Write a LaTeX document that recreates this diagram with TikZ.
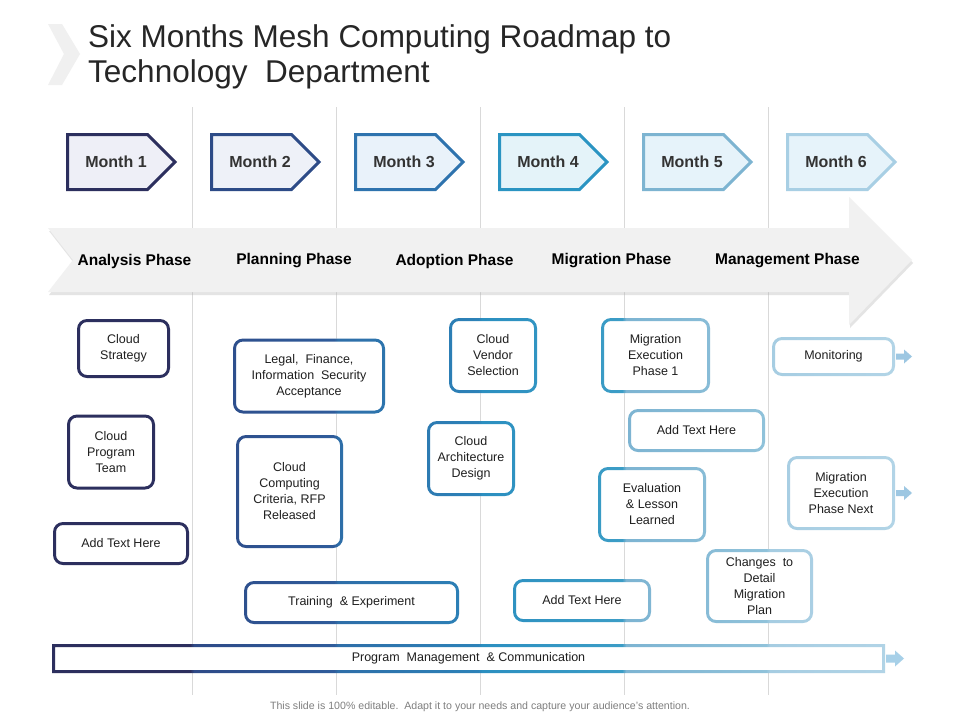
\documentclass[tikz,border=0pt]{standalone}
\usepackage{fontspec}
\setmainfont{Liberation Sans}
\usetikzlibrary{shapes.symbols,shadows}

\definecolor{gridc}{HTML}{D9D9D9}
\definecolor{arrowgray}{HTML}{F1F1F1}
\definecolor{titlec}{HTML}{262626}
\definecolor{txt}{HTML}{1F1F1F}
\definecolor{mtxt}{HTML}{333333}
\definecolor{footc}{HTML}{7F7F7F}
\definecolor{chev}{HTML}{F0F0F0}
\definecolor{c0}{HTML}{2C2F5E}
\definecolor{c1a}{HTML}{2E4A87}
\definecolor{c1b}{HTML}{2F5C9B}
\definecolor{c2a}{HTML}{2E6EA8}
\definecolor{c2b}{HTML}{2C82B8}
\definecolor{c3a}{HTML}{2B8FC0}
\definecolor{c3b}{HTML}{3C9DC6}
\definecolor{c4a}{HTML}{7DB4D2}
\definecolor{c4b}{HTML}{90C2DA}
\definecolor{c5a}{HTML}{A6CDE2}
\definecolor{c5b}{HTML}{B8D8E9}
\definecolor{m1d}{HTML}{2C2F5E}\definecolor{m1f}{HTML}{EEEFF7}
\definecolor{m2d}{HTML}{2D4B87}\definecolor{m2f}{HTML}{EEF1F8}
\definecolor{m3d}{HTML}{2E73AE}\definecolor{m3f}{HTML}{E9F2FA}
\definecolor{m4d}{HTML}{2A94C2}\definecolor{m4f}{HTML}{E4F3F9}
\definecolor{m5d}{HTML}{7DB4D1}\definecolor{m5f}{HTML}{E6F3FA}
\definecolor{m6d}{HTML}{A8CFE4}\definecolor{m6f}{HTML}{E6F3FA}
\definecolor{smallarr}{HTML}{9DC7E2}
\definecolor{bararr}{HTML}{A7D0E8}

\pgfdeclarehorizontalshading{roadmap}{100bp}{color(0bp)=(c0); color(25bp)=(c0); color(34.896bp)=(c0); color(35.104bp)=(c1a); color(42.396bp)=(c1b); color(42.604bp)=(c2a); color(49.896bp)=(c2b); color(50.104bp)=(c3a); color(57.396bp)=(c3b); color(57.604bp)=(c4a); color(64.896bp)=(c4b); color(65.104bp)=(c5a); color(75bp)=(c5b); color(100bp)=(c5b)}

\begin{document}
\begin{tikzpicture}[x=1pt,y=-1pt,
  box/.style={shape=rectangle, rounded corners=10pt, fill=white, inner sep=2pt, outer sep=0pt,
    align=center, font=\fontsize{12.5}{16}\selectfont, text=txt},
  monthbox/.style={shape=signal, signal to=east, signal pointer angle=90, minimum width=107.5pt,
    minimum height=55pt, line width=3pt, inner sep=0pt, outer sep=0pt,
    font=\bfseries\fontsize{16}{18}\selectfont, text=mtxt},
  phase/.style={font=\bfseries\fontsize{15.5}{18}\selectfont, inner sep=0pt, text=black},
  gridline/.style={draw=gridc, line width=0.8pt}]
\useasboundingbox (0,0) rectangle (960,720);
\fill[white] (0,0) rectangle (960,720);

% title
\fill[chev] (48,24) -- (62,24) -- (80,54) -- (62,85) -- (48,85) -- (64,54) -- cycle;
\node[anchor=base west, inner sep=0pt, text=titlec, font=\fontsize{31.5}{36}\selectfont] (t1) at (88,47) {Six Months Mesh Computing Roadmap to};
\node[anchor=base west, inner sep=0pt, text=titlec, font=\fontsize{31.5}{36}\selectfont] (t2) at (88,82) {Technology\ \ Department};

% grid lines
\foreach \gx in {192,336,480,624,768} {
  \draw[gridline] (\gx,107) -- (\gx,695);
}

% month arrows
\node[monthbox, draw=m1d, fill=m1f] (m1) at (107.5,162) {\hspace*{17pt}Month 1};
\node[monthbox, draw=m2d, fill=m2f] (m2) at (251.5,162) {\hspace*{17pt}Month 2};
\node[monthbox, draw=m3d, fill=m3f] (m3) at (395.5,162) {\hspace*{17pt}Month 3};
\node[monthbox, draw=m4d, fill=m4f] (m4) at (539.5,162) {\hspace*{17pt}Month 4};
\node[monthbox, draw=m5d, fill=m5f] (m5) at (683.5,162) {\hspace*{17pt}Month 5};
\node[monthbox, draw=m6d, fill=m6f] (m6) at (827.5,162) {\hspace*{17pt}Month 6};

% big phase arrow
\fill[arrowgray, drop shadow={shadow xshift=1pt, shadow yshift=-3pt, fill=black!30, opacity=0.35}]
  (48,228) -- (849,228) -- (849,197) -- (912,260) -- (849,325) -- (849,292) -- (48,292) -- (73,260) -- cycle;
\node[phase] (p1) at (134.5,261) {Analysis Phase};
\node[phase] (p2) at (294,261) {Planning Phase};
\node[phase] (p3) at (454.5,261) {Adoption Phase};
\node[phase] (p4) at (611.5,261) {Migration Phase};
\node[phase] (p5) at (787.5,261) {Management Phase};

% boxes
\node[box, minimum width=93pt, minimum height=59pt] (cs) at (123.5,348.5) {Cloud\\Strategy};
\node[box, minimum width=88pt, minimum height=75pt] (cpt) at (111,452) {Cloud\\Program\\Team};
\node[box, minimum width=136pt, minimum height=43pt] (ath1) at (121,543.5) {Add Text Here};
\node[box, minimum width=152pt, minimum height=75pt] (lfi) at (309,376) {Legal,\ \ Finance,\\Information\ \ Security\\Acceptance};
\node[box, minimum width=107pt, minimum height=113pt] (ccc) at (289.5,491.5) {Cloud\\Computing\\Criteria,\ RFP\\Released};
\node[box, minimum width=215pt, minimum height=43pt] (tre) at (351.5,602.5) {Training\ \ \& Experiment};
\node[box, minimum width=88pt, minimum height=75pt] (cvs) at (493,355.5) {Cloud\\Vendor\\Selection};
\node[box, minimum width=88pt, minimum height=75pt] (cad) at (471,458.5) {Cloud\\Architecture\\Design};
\node[box, minimum width=138pt, minimum height=43pt] (ath4) at (582,600.5) {Add Text Here};
\node[box, minimum width=109pt, minimum height=75pt] (mep1) at (655.5,355.5) {Migration\\Execution\\Phase 1};
\node[box, minimum width=137pt, minimum height=43pt] (ath5) at (696.5,430.5) {Add Text Here};
\node[box, minimum width=108pt, minimum height=75pt] (ell) at (652,504.5) {Evaluation\\\& Lesson\\Learned};
\node[box, minimum width=107pt, minimum height=74pt] (cdm) at (759.5,586) {Changes\ \ to\\Detail\\Migration\\Plan};
\node[box, minimum width=123pt, minimum height=39pt] (mon) at (833.5,356.5) {Monitoring};
\node[box, minimum width=108pt, minimum height=74pt] (mepn) at (841,493) {Migration\\Execution\\Phase Next};
\node[box, rounded corners=0pt, minimum width=833pt, minimum height=29pt] (bar) at (468.5,658.5) {Program\ \ Management\ \ \& Communication};

% gradient borders (colour follows the slide's x position)
\shade[shading=roadmap, even odd rule]
  (0,400) (960,400)
  foreach \nm in {cs,cpt,ath1,lfi,ccc,tre,cvs,cad,ath4,mep1,ath5,ell,cdm,mon,mepn} {
    [rounded corners=10pt] (\nm.south west) rectangle (\nm.north east)
    [rounded corners=7pt] ([shift={(3pt,3pt)}]\nm.south west) rectangle ([shift={(-3pt,-3pt)}]\nm.north east)
  }
  [sharp corners] (bar.south west) rectangle (bar.north east)
  ([shift={(3pt,3pt)}]bar.south west) rectangle ([shift={(-3pt,-3pt)}]bar.north east);

% small outgoing arrows
\foreach \nm in {mon,mepn} {
  \fill[smallarr] ([xshift=1pt,yshift=3pt]\nm.east) -- ++(8pt,0pt) -- ++(0pt,4pt) -- ++(8pt,-7pt)
    -- ++(-8pt,-7pt) -- ++(0pt,4pt) -- ++(-8pt,0pt) -- cycle;
}
\fill[bararr] ([xshift=1pt,yshift=4pt]bar.east) -- ++(9pt,0pt) -- ++(0pt,4pt) -- ++(9pt,-8pt)
    -- ++(-9pt,-8pt) -- ++(0pt,4pt) -- ++(-9pt,0pt) -- cycle;

% footer
\node[inner sep=0pt, text=footc, font=\fontsize{10.6}{12}\selectfont] (foot) at (480,707) {This slide is 100\% editable.\ \ Adapt it to your needs and capture your audience's attention.};
\end{tikzpicture}
\end{document}
